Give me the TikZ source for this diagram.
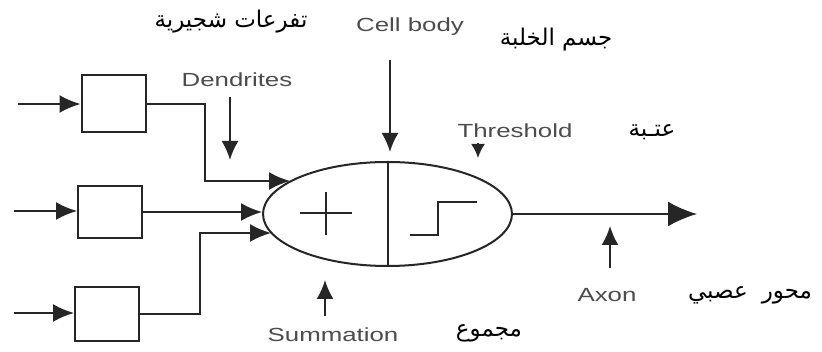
\documentclass[tikz,border=0pt]{standalone}
\usepackage{fontspec}
\setmainfont{Liberation Sans}
\newfontfamily\arabicfont[Script=Arabic]{DejaVu Sans}
\TeXXeTstate=1
\usetikzlibrary{arrows.meta,shapes.geometric}
\definecolor{linec}{HTML}{262626}
\definecolor{labelc}{HTML}{4C4C4C}
\newcommand{\wide}[1]{\scalebox{1.36}[1]{#1}}
\newcommand{\ar}[1]{\arabicfont\beginR #1\endR}
\begin{document}
\begin{tikzpicture}[x=1pt,y=-1pt,
  ln/.style={draw=linec, line width=2pt},
  inbox/.style={draw=linec, line width=2pt, minimum width=64pt, inner sep=0pt},
  arr/.style={-{Latex[length=21pt,width=18pt]}},
  sarr/.style={-{Latex[length=19pt,width=17pt]}},
  tarr/.style={-{Latex[length=14pt,width=14pt]}},
  bigarr/.style={-{Latex[length=29pt,width=25pt]}},
  lbl/.style={text=labelc, font=\fontsize{19}{19}\selectfont, inner sep=0pt},
  artxt/.style={text=black, font=\fontsize{23}{23}\selectfont, inner sep=0pt}]
\useasboundingbox (0,0) rectangle (822,352);
\fill[white] (0,0) rectangle (822,352);

% input boxes
\node[inbox, minimum height=57pt] (b1) at (113.5,104) {};
\node[inbox, minimum height=52pt] (b2) at (110,212) {};
\node[inbox, minimum height=54pt] (b3) at (107,314) {};

% cell body
\node[ellipse, ln, minimum width=249pt, minimum height=104pt, inner sep=0pt] (body) at (387.5,214) {};
\draw[ln] (body.north) -- (body.south);
\draw[ln, line width=1.6pt] (300,213) -- (352,213) (326,192) -- (326,235);
\draw[ln, line width=1.6pt] (410,235) -- (438,235) -- (438,202) -- (477,202);

% inputs
\coordinate (in1) at (18,104);
\coordinate (in2) at (14,211);
\coordinate (in3) at (14,313);
\draw[ln, arr] (in1) -- (in1 -| b1.west);
\draw[ln, arr] (in2) -- (in2 -| b2.west);
\draw[ln, arr] (in3) -- (in3 -| b3.west);

% dendrite connections
\coordinate (j1) at (205,181);
\coordinate (e1) at (290,181);
\coordinate (j3) at (200,233);
\coordinate (e3) at (271,233);
\draw[ln, arr] (b1.east) -| (j1) -- (e1);
\draw[ln, arr] (b2.east) -- (b2.east -| body.west);
\draw[ln, arr] (b3.east) -| (j3) -- (e3);

% axon
\coordinate (axend) at (697,214);
\draw[ln, bigarr] (body.east) -- (axend);

% English labels
\node[lbl] (tcb) at (410,27) {\wide{Cell body}};
\node[lbl] (tden) at (237,80) {\wide{Dendrites}};
\node[lbl] (tth) at (515,131) {\wide{Threshold}};
\node[lbl] (tsum) at (333,335) {\wide{Summation}};
\node[lbl] (tax) at (607,295) {\wide{Axon}};

\coordinate (cbs) at (390,60);  \coordinate (cbt) at (390,152);
\coordinate (dns) at (230,97);  \coordinate (dnt) at (230,160);
\coordinate (ths) at (478,143); \coordinate (tht) at (478,158);
\coordinate (sms) at (325,316); \coordinate (smt) at (325,280);
\coordinate (axs) at (610,268); \coordinate (axt) at (610,226);
\draw[ln, sarr] (cbs) -- (cbt);
\draw[ln, sarr] (dns) -- (dnt);
\draw[ln, tarr] (ths) -- (tht);
\draw[ln, sarr] (sms) -- (smt);
\draw[ln, sarr] (axs) -- (axt);

% Arabic labels
\node[artxt] (a1) at (231,22) {\ar{تفرعات شجيرية}};
\node[artxt] (a2) at (556,40) {\ar{جسم الخلبة}};
\node[artxt] (a3) at (652,132) {\ar{عتـبة}};
\node[artxt] (a4) at (750,295) {\ar{محور\hspace{14pt}عصبي}};
\node[artxt] (a5) at (489,333) {\ar{مجموع}};
\end{tikzpicture}
\end{document}
